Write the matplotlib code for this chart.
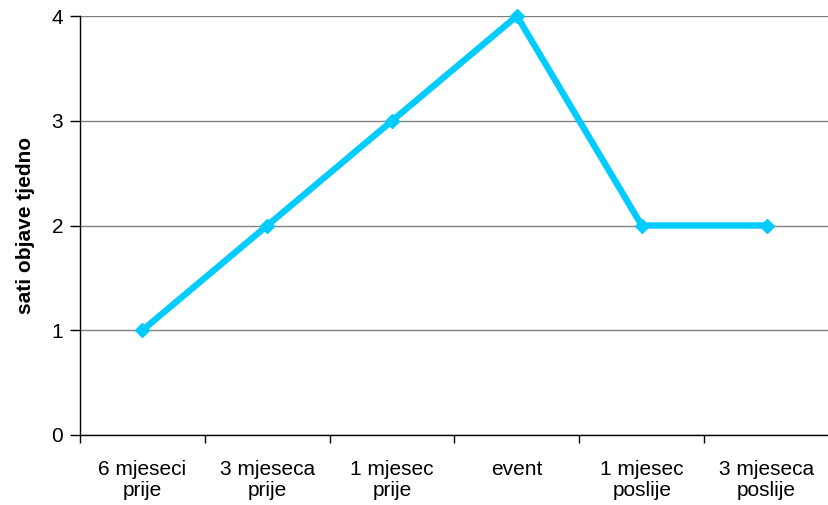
import matplotlib
matplotlib.use("Agg")
import matplotlib.pyplot as plt
import numpy as np

# weekly hours spent posting, around the event
categories = ["6 mjeseci\nprije", "3 mjeseca\nprije", "1 mjesec\nprije",
              "event", "1 mjesec\nposlije", "3 mjeseca\nposlije"]
hours = [1, 2, 3, 4, 2, 2]
y_ticks = [0, 1, 2, 3, 4]

plt.rcParams['font.family'] = ['Liberation Sans', 'DejaVu Sans']

fig = plt.figure(figsize=(8.29, 5.05), dpi=100)
ax = fig.add_axes([80 / 829, 70 / 505, 749 / 829, 419 / 505])

x = np.arange(len(categories))
ax.plot(x, hours, color='#00CCFF', linewidth=4.6, marker='D', markersize=7,
        solid_joinstyle='miter', zorder=3, clip_on=False)

ax.set_xlim(-0.5, len(categories) - 0.5)
ax.set_ylim(0, 4)
ax.set_yticks(y_ticks)
ax.yaxis.grid(True, color='#808080', linewidth=1.0)
ax.set_axisbelow(True)

# category ticks sit between the groups, labels in the middle
ax.set_xticks(np.arange(len(categories) + 1) - 0.5)
ax.set_xticklabels([])
ax.set_xticks(x, minor=True)
ax.set_xticklabels(categories, minor=True, fontsize=15, linespacing=1.1)
ax.tick_params(axis='x', which='minor', length=0, pad=18)
ax.tick_params(axis='x', which='major', length=6, width=1, direction='out')
ax.tick_params(axis='y', length=7, width=1, labelsize=15, pad=5)

for side in ['top', 'right']:
    ax.spines[side].set_visible(False)
for side in ['left', 'bottom']:
    ax.spines[side].set_color('black')
    ax.spines[side].set_linewidth(1.0)

ax.set_ylabel('sati objave tjedno', fontsize=15, fontweight='bold', labelpad=12)

fig.savefig('out.png', dpi=100)
